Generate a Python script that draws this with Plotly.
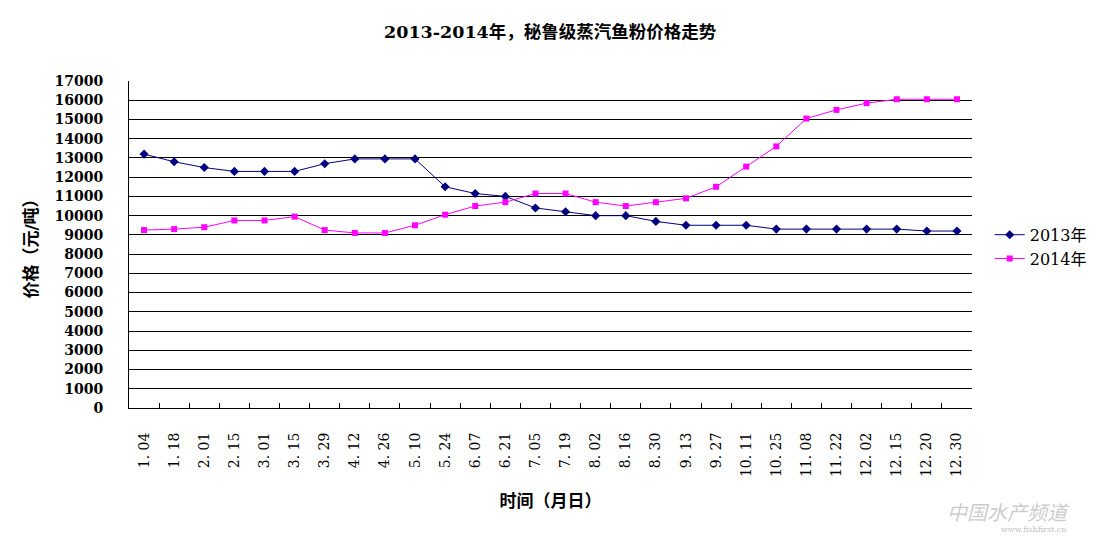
import plotly.graph_objects as go

dates = ["1. 04", "1. 18", "2. 01", "2. 15", "3. 01", "3. 15", "3. 29", "4. 12", "4. 26", "5. 10",
         "5. 24", "6. 07", "6. 21", "7. 05", "7. 19", "8. 02", "8. 16", "8. 30", "9. 13", "9. 27",
         "10. 11", "10. 25", "11. 08", "11. 22", "12. 02", "12. 15", "12. 20", "12. 30"]

price_2013 = [13200, 12800, 12500, 12300, 12300, 12300, 12700, 12950, 12950, 12950,
              11500, 11150, 11000, 10400, 10200, 10000, 10000, 9700, 9500, 9500,
              9500, 9300, 9300, 9300, 9300, 9300, 9200, 9200]

price_2014 = [9250, 9300, 9400, 9750, 9750, 9950, 9250, 9100, 9100, 9500,
              10050, 10500, 10700, 11150, 11150, 10700, 10500, 10700, 10900, 11500,
              12550, 13600, 15050, 15500, 15850, 16050, 16050, 16050]

y_ticks = list(range(0, 17001, 1000))

SERIF = "DejaVu Serif, Liberation Serif, Noto Sans CJK SC, serif"

fig = go.Figure()
fig.add_trace(go.Scatter(
    x=dates, y=price_2013, name="2013年", mode="lines+markers",
    line=dict(color="#000080", width=1),
    marker=dict(symbol="diamond", size=7, color="#000080"),
))
fig.add_trace(go.Scatter(
    x=dates, y=price_2014, name="2014年", mode="lines+markers",
    line=dict(color="#FF00FF", width=1),
    marker=dict(symbol="square", size=6, color="#FF00FF"),
))

fig.update_layout(
    width=1107, height=537,
    margin=dict(l=129, r=135, t=81, b=129, autoexpand=False),
    paper_bgcolor="white", plot_bgcolor="white",
    font=dict(family=SERIF, color="black"),
    title=dict(text="<b>2013-2014年，秘鲁级蒸汽鱼粉价格走势</b>",
               x=0.497, xanchor="center", y=0.94, yanchor="middle",
               font=dict(size=17.5, family=SERIF, color="black")),
    showlegend=True,
    legend=dict(x=1.021, xanchor="left", y=0.493, yanchor="middle",
                font=dict(size=16, family=SERIF, color="black"),
                bgcolor="rgba(0,0,0,0)", tracegroupgap=2, itemwidth=30),
)

fig.update_xaxes(
    type="category", categoryorder="array", categoryarray=dates,
    range=[-0.5, len(dates) - 0.5],
    showline=True, linecolor="black", linewidth=1, mirror=False,
    showgrid=False, zeroline=False,
    ticks="inside", tickson="boundaries", ticklen=5, tickcolor="black",
    tickangle=-90, tickfont=dict(size=14, family=SERIF, color="black"),
    ticklabelstandoff=18,
    title=dict(text="<b>时间（月日）</b>", font=dict(size=17, family=SERIF), standoff=18),
)

fig.update_yaxes(
    range=[0, 17000], tickvals=y_ticks, ticktext=[str(v) for v in y_ticks],
    showline=True, linecolor="black", linewidth=1,
    showgrid=True, gridcolor="black", gridwidth=1, zeroline=False,
    ticks="", tickfont=dict(size=14, family=SERIF, color="black", weight="bold"),
    ticklabelstandoff=22,
    title=dict(text="<b>价格（元/吨）</b>", font=dict(size=17, family=SERIF), standoff=12),
)

fig.add_annotation(xref="paper", yref="paper", x=1.119, y=-0.315, xanchor="right", yanchor="middle",
                   text="<i>中国水产频道</i>", showarrow=False,
                   font=dict(size=20, color="rgba(160,160,160,0.55)", family="Noto Sans CJK SC"))
fig.add_annotation(xref="paper", yref="paper", x=1.114, y=-0.372, xanchor="right", yanchor="middle",
                   text="www.fishfirst.cn", showarrow=False,
                   font=dict(size=8, color="rgba(160,160,160,0.7)", family=SERIF))

fig.write_html("out.html", config={"displayModeBar": False},
               post_script="document.body.style.margin='0';")
